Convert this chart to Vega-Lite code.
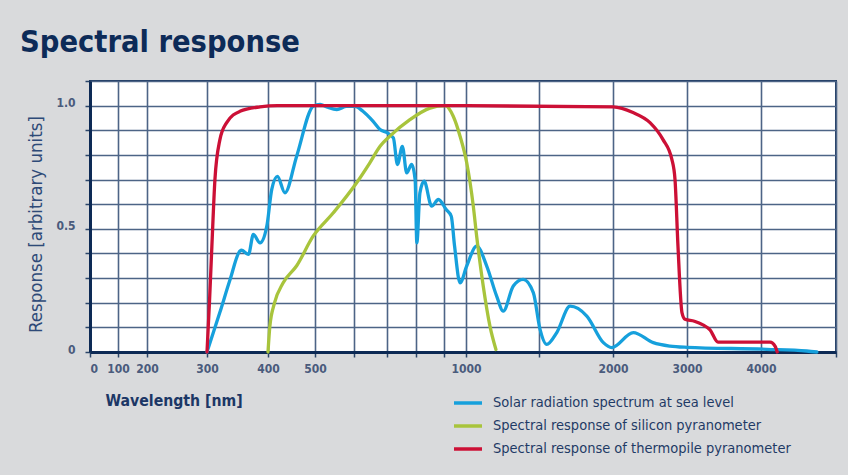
{
  "$schema": "https://vega.github.io/schema/vega-lite/v6.json",
  "width": 746,
  "height": 271,
  "autosize": {"type": "none"},
  "padding": {"left": 90, "top": 81, "right": 12, "bottom": 123},
  "title": {"text": "Spectral response", "anchor": "start", "frame": "group", "dx": -70, "offset": 22, "fontSize": 30.5, "fontWeight": "bold", "color": "#0d2b58", "font": "DejaVu Sans Condensed"},
  "config": {
    "background": "#d9dadc",
    "view": {"fill": "white", "stroke": "#1d3961", "strokeWidth": 2},
    "font": "DejaVu Sans Condensed"
  },
  "data": {"values": [
    {"series": "Solar radiation spectrum at sea level", "wl": 300, "r": 0},
    {"series": "Solar radiation spectrum at sea level", "wl": 321, "r": 0.16},
    {"series": "Solar radiation spectrum at sea level", "wl": 338, "r": 0.295},
    {"series": "Solar radiation spectrum at sea level", "wl": 354, "r": 0.41},
    {"series": "Solar radiation spectrum at sea level", "wl": 357, "r": 0.413},
    {"series": "Solar radiation spectrum at sea level", "wl": 368, "r": 0.396},
    {"series": "Solar radiation spectrum at sea level", "wl": 376, "r": 0.477},
    {"series": "Solar radiation spectrum at sea level", "wl": 387, "r": 0.443},
    {"series": "Solar radiation spectrum at sea level", "wl": 398, "r": 0.51},
    {"series": "Solar radiation spectrum at sea level", "wl": 408, "r": 0.66},
    {"series": "Solar radiation spectrum at sea level", "wl": 420, "r": 0.713},
    {"series": "Solar radiation spectrum at sea level", "wl": 436, "r": 0.646},
    {"series": "Solar radiation spectrum at sea level", "wl": 461, "r": 0.795},
    {"series": "Solar radiation spectrum at sea level", "wl": 496, "r": 0.997},
    {"series": "Solar radiation spectrum at sea level", "wl": 513, "r": 1.005},
    {"series": "Solar radiation spectrum at sea level", "wl": 530, "r": 0.995},
    {"series": "Solar radiation spectrum at sea level", "wl": 556, "r": 0.984},
    {"series": "Solar radiation spectrum at sea level", "wl": 581, "r": 0.997},
    {"series": "Solar radiation spectrum at sea level", "wl": 603, "r": 0.997},
    {"series": "Solar radiation spectrum at sea level", "wl": 627, "r": 0.977},
    {"series": "Solar radiation spectrum at sea level", "wl": 658, "r": 0.936},
    {"series": "Solar radiation spectrum at sea level", "wl": 679, "r": 0.903},
    {"series": "Solar radiation spectrum at sea level", "wl": 700, "r": 0.89},
    {"series": "Solar radiation spectrum at sea level", "wl": 722, "r": 0.869},
    {"series": "Solar radiation spectrum at sea level", "wl": 736, "r": 0.761},
    {"series": "Solar radiation spectrum at sea level", "wl": 753, "r": 0.835},
    {"series": "Solar radiation spectrum at sea level", "wl": 768, "r": 0.727},
    {"series": "Solar radiation spectrum at sea level", "wl": 785, "r": 0.761},
    {"series": "Solar radiation spectrum at sea level", "wl": 797, "r": 0.70},
    {"series": "Solar radiation spectrum at sea level", "wl": 803, "r": 0.443},
    {"series": "Solar radiation spectrum at sea level", "wl": 814, "r": 0.646},
    {"series": "Solar radiation spectrum at sea level", "wl": 829, "r": 0.693},
    {"series": "Solar radiation spectrum at sea level", "wl": 856, "r": 0.592},
    {"series": "Solar radiation spectrum at sea level", "wl": 880, "r": 0.619},
    {"series": "Solar radiation spectrum at sea level", "wl": 910, "r": 0.578},
    {"series": "Solar radiation spectrum at sea level", "wl": 933, "r": 0.551},
    {"series": "Solar radiation spectrum at sea level", "wl": 948, "r": 0.43},
    {"series": "Solar radiation spectrum at sea level", "wl": 973, "r": 0.281},
    {"series": "Solar radiation spectrum at sea level", "wl": 1005, "r": 0.349},
    {"series": "Solar radiation spectrum at sea level", "wl": 1073, "r": 0.43},
    {"series": "Solar radiation spectrum at sea level", "wl": 1142, "r": 0.349},
    {"series": "Solar radiation spectrum at sea level", "wl": 1210, "r": 0.227},
    {"series": "Solar radiation spectrum at sea level", "wl": 1255, "r": 0.166},
    {"series": "Solar radiation spectrum at sea level", "wl": 1324, "r": 0.268},
    {"series": "Solar radiation spectrum at sea level", "wl": 1392, "r": 0.295},
    {"series": "Solar radiation spectrum at sea level", "wl": 1461, "r": 0.241},
    {"series": "Solar radiation spectrum at sea level", "wl": 1507, "r": 0.092},
    {"series": "Solar radiation spectrum at sea level", "wl": 1552, "r": 0.031},
    {"series": "Solar radiation spectrum at sea level", "wl": 1620, "r": 0.079},
    {"series": "Solar radiation spectrum at sea level", "wl": 1710, "r": 0.186},
    {"series": "Solar radiation spectrum at sea level", "wl": 1823, "r": 0.146},
    {"series": "Solar radiation spectrum at sea level", "wl": 1935, "r": 0.038},
    {"series": "Solar radiation spectrum at sea level", "wl": 1991, "r": 0.018},
    {"series": "Solar radiation spectrum at sea level", "wl": 2274, "r": 0.079},
    {"series": "Solar radiation spectrum at sea level", "wl": 2544, "r": 0.038},
    {"series": "Solar radiation spectrum at sea level", "wl": 2770, "r": 0.024},
    {"series": "Solar radiation spectrum at sea level", "wl": 3000, "r": 0.019},
    {"series": "Solar radiation spectrum at sea level", "wl": 4076, "r": 0.011},
    {"series": "Solar radiation spectrum at sea level", "wl": 4608, "r": 0.004},
    {"series": "Solar radiation spectrum at sea level", "wl": 4745, "r": 0},
    {"series": "Spectral response of silicon pyranometer", "wl": 400, "r": 0},
    {"series": "Spectral response of silicon pyranometer", "wl": 404, "r": 0.105},
    {"series": "Spectral response of silicon pyranometer", "wl": 414, "r": 0.2},
    {"series": "Spectral response of silicon pyranometer", "wl": 432, "r": 0.28},
    {"series": "Spectral response of silicon pyranometer", "wl": 461, "r": 0.35},
    {"series": "Spectral response of silicon pyranometer", "wl": 496, "r": 0.47},
    {"series": "Spectral response of silicon pyranometer", "wl": 547, "r": 0.565},
    {"series": "Spectral response of silicon pyranometer", "wl": 608, "r": 0.687},
    {"series": "Spectral response of silicon pyranometer", "wl": 648, "r": 0.768},
    {"series": "Spectral response of silicon pyranometer", "wl": 679, "r": 0.835},
    {"series": "Spectral response of silicon pyranometer", "wl": 710, "r": 0.876},
    {"series": "Spectral response of silicon pyranometer", "wl": 779, "r": 0.943},
    {"series": "Spectral response of silicon pyranometer", "wl": 850, "r": 0.99},
    {"series": "Spectral response of silicon pyranometer", "wl": 905, "r": 1.0},
    {"series": "Spectral response of silicon pyranometer", "wl": 942, "r": 0.957},
    {"series": "Spectral response of silicon pyranometer", "wl": 973, "r": 0.876},
    {"series": "Spectral response of silicon pyranometer", "wl": 1005, "r": 0.768},
    {"series": "Spectral response of silicon pyranometer", "wl": 1050, "r": 0.592},
    {"series": "Spectral response of silicon pyranometer", "wl": 1073, "r": 0.47},
    {"series": "Spectral response of silicon pyranometer", "wl": 1118, "r": 0.268},
    {"series": "Spectral response of silicon pyranometer", "wl": 1164, "r": 0.105},
    {"series": "Spectral response of silicon pyranometer", "wl": 1205, "r": 0.01},
    {"series": "Spectral response of thermopile pyranometer", "wl": 300, "r": 0},
    {"series": "Spectral response of thermopile pyranometer", "wl": 304, "r": 0.2},
    {"series": "Spectral response of thermopile pyranometer", "wl": 308, "r": 0.43},
    {"series": "Spectral response of thermopile pyranometer", "wl": 313, "r": 0.7},
    {"series": "Spectral response of thermopile pyranometer", "wl": 321, "r": 0.86},
    {"series": "Spectral response of thermopile pyranometer", "wl": 332, "r": 0.93},
    {"series": "Spectral response of thermopile pyranometer", "wl": 354, "r": 0.977},
    {"series": "Spectral response of thermopile pyranometer", "wl": 387, "r": 0.995},
    {"series": "Spectral response of thermopile pyranometer", "wl": 420, "r": 1.0},
    {"series": "Spectral response of thermopile pyranometer", "wl": 1000, "r": 1.0},
    {"series": "Spectral response of thermopile pyranometer", "wl": 2000, "r": 0.995},
    {"series": "Spectral response of thermopile pyranometer", "wl": 2270, "r": 0.972},
    {"series": "Spectral response of thermopile pyranometer", "wl": 2500, "r": 0.931},
    {"series": "Spectral response of thermopile pyranometer", "wl": 2676, "r": 0.862},
    {"series": "Spectral response of thermopile pyranometer", "wl": 2797, "r": 0.78},
    {"series": "Spectral response of thermopile pyranometer", "wl": 2838, "r": 0.70},
    {"series": "Spectral response of thermopile pyranometer", "wl": 2878, "r": 0.43},
    {"series": "Spectral response of thermopile pyranometer", "wl": 2932, "r": 0.16},
    {"series": "Spectral response of thermopile pyranometer", "wl": 2973, "r": 0.133},
    {"series": "Spectral response of thermopile pyranometer", "wl": 3100, "r": 0.125},
    {"series": "Spectral response of thermopile pyranometer", "wl": 3216, "r": 0.11},
    {"series": "Spectral response of thermopile pyranometer", "wl": 3311, "r": 0.09},
    {"series": "Spectral response of thermopile pyranometer", "wl": 3419, "r": 0.04},
    {"series": "Spectral response of thermopile pyranometer", "wl": 4122, "r": 0.04},
    {"series": "Spectral response of thermopile pyranometer", "wl": 4189, "r": 0.023},
    {"series": "Spectral response of thermopile pyranometer", "wl": 4216, "r": 0}
  ]},
  "mark": {"type": "line", "interpolate": "monotone", "strokeWidth": 3.3, "strokeCap": "round", "strokeJoin": "round"},
  "encoding": {
    "x": {
      "field": "wl", "type": "quantitative",
      "scale": {"type": "linear", "domain": [0,100,200,300,400,500,600,700,800,900,1000,1500,2000,3000,4000,5000], "range": [0,28,57,117,178,225,264,297,326,354,376,449,523,597,671,746], "zero": false, "nice": false},
      "axis": {
        "values": [0,100,200,300,400,500,600,700,800,900,1000,1500,2000,3000,4000,5000],
        "labelExpr": "indexof([600,700,800,900,1500,5000], datum.value) >= 0 ? '' : datum.label",
        "format": "d",
        "title": "Wavelength [nm]",
        "titleX": 15, "titleY": 48, "titleAlign": "left", "titleBaseline": "middle", "titleAnchor": null,
        "titleFontSize": 15.7, "titleFontWeight": "bold", "titleColor": "#1c3766", "titleFont": "DejaVu Sans Condensed",
        "labelFontSize": 12, "labelFontWeight": "bold", "labelColor": "#4a5b7c", "labelPadding": 6, "labelFont": "DejaVu Sans Condensed",
        "grid": true, "gridColor": "#4d6486", "gridWidth": 1.6,
        "domainColor": "#0d2a55", "domainWidth": 3,
        "tickColor": "#2b4569", "tickWidth": 1.5, "tickSize": 5
      }
    },
    "y": {
      "field": "r", "type": "quantitative",
      "scale": {"domain": [0, 1.1], "nice": false},
      "axis": {
        "values": [0,0.1,0.2,0.3,0.4,0.5,0.6,0.7,0.8,0.9,1.0,1.1],
        "labelExpr": "abs(datum.value) < 0.001 ? '0' : abs(datum.value - 0.5) < 0.001 ? '0.5' : abs(datum.value - 1) < 0.001 ? '1.0' : ''",
        "title": "Response [arbitrary units]",
        "titleX": -55, "titleY": 143, "titleAngle": -90, "titleAlign": "center", "titleBaseline": "middle",
        "titleFontSize": 18.5, "titleFontWeight": "normal", "titleColor": "#2e4a78", "titleFont": "DejaVu Sans Condensed",
        "labelFontSize": 12, "labelFontWeight": "bold", "labelColor": "#4a5b7c", "labelPadding": 10, "labelOffset": -3, "labelFont": "DejaVu Sans Condensed",
        "grid": true, "gridColor": "#4d6486", "gridWidth": 1.6,
        "domainColor": "#0d2a55", "domainWidth": 3,
        "tickColor": "#2b4569", "tickWidth": 1.5, "tickSize": 5
      }
    },
    "color": {
      "field": "series", "type": "nominal",
      "scale": {"domain": ["Solar radiation spectrum at sea level", "Spectral response of silicon pyranometer", "Spectral response of thermopile pyranometer"], "range": ["#16a0dc", "#a8c43c", "#cc1036"]},
      "legend": {
        "orient": "none", "legendX": 362, "legendY": 306, "title": null,
        "symbolType": "stroke", "symbolSize": 784, "symbolStrokeWidth": 3.5,
        "labelFontSize": 14.5, "labelColor": "#1f3a66", "labelFont": "DejaVu Sans Condensed", "labelOffset": 9, "labelLimit": 0, "rowPadding": -3
      }
    }
  }
}
